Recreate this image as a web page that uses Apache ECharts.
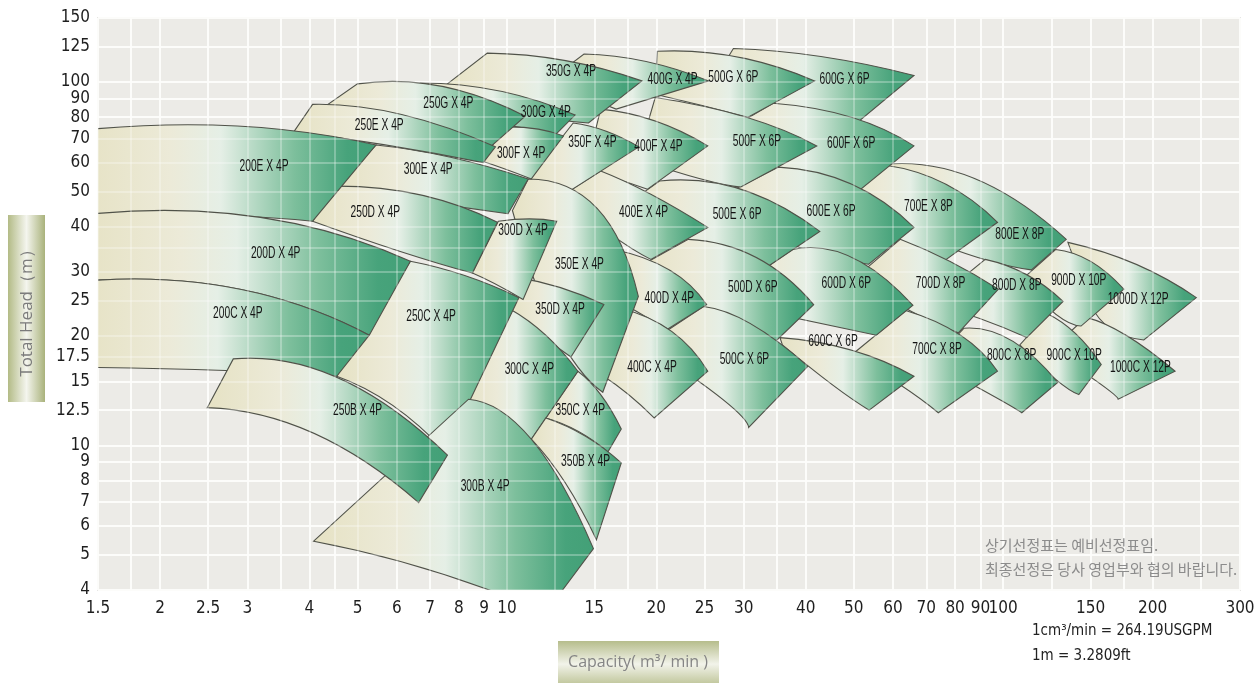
<!DOCTYPE html>
<html>
<head>
<meta charset="utf-8">
<title>Pump selection chart</title>
<script src="https://cdn.jsdelivr.net/npm/echarts@6.0.0/dist/echarts.min.js"></script>
<style>
  html, body { margin: 0; padding: 0; background: #fff; }
  #chart { width: 1260px; height: 686px; }
</style>
</head>
<body>
<div id="chart"></div>
<script>
'use strict';

// Capacity (m3/min) and total head (m) tick labels
var xTicks = [1.5, 2, 2.5, 3, 4, 5, 6, 7, 8, 9, 10, 15, 20, 25, 30, 40, 50, 60, 70, 80, 90, 100, 150, 200, 300];
var yTicks = [4, 5, 6, 7, 8, 9, 10, 12.5, 15, 17.5, 20, 25, 30, 40, 50, 60, 70, 80, 90, 100, 125, 150];
// grid lines (white)
var xGrid = [1.5, 1.75, 2, 2.5, 3, 3.5, 4, 4.5, 5, 6, 7, 8, 9, 10, 12.5, 15, 17.5, 20, 25, 30, 35, 40, 50, 60, 70, 80, 90, 100, 125, 150, 175, 200, 250, 300];
var yGrid = [4, 5, 6, 7, 8, 9, 10, 12.5, 15, 17.5, 20, 25, 30, 35, 40, 50, 60, 70, 80, 90, 100, 125, 150];

// pump zones in drawing order: big pumps first, so smaller ones lie over them
var pumpNames = [
  '1000D X 12P', '1000C X 12P', '900D X 10P', '900C X 10P',
  '800E X 8P', '800D X 8P', '800C X 8P', '700E X 8P', '700D X 8P', '700C X 8P',
  '600G X 6P', '600F X 6P', '600E X 6P', '600D X 6P', '600C X 6P',
  '500G X 6P', '500F X 6P', '500E X 6P', '500D X 6P', '500C X 6P',
  '400G X 4P', '400F X 4P', '400E X 4P', '400D X 4P', '400C X 4P',
  '350G X 4P', '350F X 4P', '350E X 4P', '350D X 4P', '350C X 4P',
  '300G X 4P', '300F X 4P', '300E X 4P', '300D X 4P', '300C X 4P',
  '250G X 4P', '250E X 4P', '250D X 4P', '250C X 4P',
  '200E X 4P', '200D X 4P', '200C X 4P',
  '350B X 4P', '300B X 4P', '250B X 4P'
];

// [Q, H] of each zone: top edge (left, middle, right), bottom edge (right, middle, left)
var topLeft = [
  [135, 36.2], [146.8, 22.5], [127.5, 34.6], [123, 23],
  [58, 59.4], [92, 32.5], [83.3, 21], [58, 59], [62, 36.9], [63.6, 23.5],
  [28.6, 123.6], [34.4, 87.4], [35.2, 58.3], [37.6, 34.6], [35.5, 19.8],
  [20.1, 121.5], [19.9, 90.6], [20.3, 53.4], [23.2, 36.9], [24.9, 24.1],
  [14.3, 119.4], [15.45, 84.2], [15.45, 56.9], [16.4, 34.6], [17, 23.8],
  [9.13, 120.1], [13.6, 77.1], [11.04, 54.1], [10.42, 29], [13.9, 16],
  [6.7, 99.4], [9.83, 75.2], [5.45, 67.1], [9.61, 41.4], [10.16, 23.7],
  [5, 98.8], [4.06, 86.8], [4.5, 51.7], [6.39, 32.1],
  [1.4, 73.8], [1.4, 43.1], [1.4, 28.3],
  [11.98, 11.9], [8.37, 13.4], [2.81, 17.3]
];
var topMid = [
  [185.3, 31.5], [176.7, 20.1], [150, 32.1], [140, 20.3],
  [88, 54.1], [111.5, 29.5], [103.5, 19.5], [76.5, 52.4], [78, 32.1], [82, 20.1],
  [43.1, 117.4], [49.4, 80], [49.4, 52.4], [49.4, 33], [49.4, 18.3],
  [29, 117.4], [30.3, 80], [29.6, 50.7], [31.8, 32.9], [31, 21.6],
  [19.05, 113.9], [19.9, 78.1], [19.5, 49.1], [21.25, 30.4], [21.46, 20.6],
  [13.1, 114.6], [15.8, 73.3], [15.2, 44.9], [12.8, 27.2], [15.45, 13.8],
  [9.7, 94.4], [11.46, 74.3], [7.69, 62.1], [11.1, 42], [11.98, 20.1],
  [7.34, 97.5], [6.09, 81.6], [6.7, 48.9], [8.24, 29.3],
  [2.85, 75.7], [3.12, 42.6], [2.82, 27.1],
  [14.4, 10.6], [11.2, 10.4], [4.59, 15.3]
];
var topRight = [
  [245, 25.5], [222, 16], [175, 26.9], [157.6, 16.7],
  [134, 36.9], [132, 24.9], [128.8, 14.9], [97.4, 41.1], [97.8, 26.9], [97.4, 16],
  [66.1, 104.2], [66.1, 66.7], [66.1, 39.8], [65.8, 24.3], [66.1, 15.5],
  [41.7, 100.7], [42.1, 66.7], [42.7, 38.8], [41.5, 24.4], [40.4, 16.5],
  [25.5, 100.7], [25.4, 66.7], [25.4, 39.8], [25.26, 24.4], [25.4, 16],
  [18.7, 100.7], [18.45, 66.3], [18.4, 25.7], [15.68, 24.4], [17, 11.1],
  [13.72, 81.1], [13, 71], [11.04, 54.1], [12.6, 41.4], [13.9, 16],
  [10.89, 80.5], [9.48, 66.3], [9.57, 41.1], [10.57, 25.5],
  [5.45, 67.1], [6.39, 32.1], [5.28, 20.1],
  [17, 8.95], [14.94, 5.2], [7.59, 9.4]
];
var bottomRight = [
  [192, 19.5], [170.5, 13.4], [143.5, 21.3], [142, 13.8],
  [114, 30.4], [111.5, 19.8], [109, 12.3], [75.8, 32.1], [81.2, 20.4], [74, 12.3],
  [51, 77.6], [51, 50], [53.5, 31.5], [55.5, 20.1], [53.7, 12.5],
  [30.6, 80], [29.6, 51.4], [33.5, 31], [35, 19.5], [30.7, 11.2],
  [16.6, 84.2], [19.2, 50.7], [19.5, 32.5], [21.1, 20.9], [19.8, 11.9],
  [14.6, 77.1], [13, 48.9], [15.6, 14], [13.46, 17.5], [15.98, 9.6],
  [12.56, 71.9], [11.2, 54.1], [10.05, 43.4], [10.78, 25.2], [11.2, 10.4],
  [9.26, 66.3], [8.96, 60], [8.52, 29.8], [7.52, 9.6],
  [4.06, 41.4], [5.28, 20.1], [4.54, 15.5],
  [15.15, 5.5], [11.98, 3.47], [6.64, 6.96]
];
var bottomMid = [
  [165, 20.9], [157.6, 14.7], [127.5, 23], [127.5, 15.2],
  [94.3, 32.1], [90, 22.3], [94.3, 13.8], [59.3, 36.9], [65.2, 23.4], [61.9, 14.7],
  [35.5, 85.3], [37.3, 56.9], [37.3, 35.7], [38.9, 22.3], [45.2, 14.7],
  [24.6, 86.3], [24.6, 54.1], [27, 32.9], [28.4, 21.2], [27.2, 13.4],
  [14.7, 92.5], [16.6, 54.1], [16.2, 38.1], [19.05, 22.6], [17.59, 13.8],
  [10.68, 83.2], [11.98, 51.4], [12.5, 20.9], [11.72, 20.1], [13.9, 10.95],
  [9.7, 76.7], [9.91, 57.6], [6.7, 47.1], [9.48, 27.8], [9.48, 11.9],
  [6.09, 76.7], [5.7, 67.1], [6.09, 34.2], [5.88, 12.9],
  [2.47, 43.1], [2.82, 27.1], [2.63, 16.1],
  [13.1, 7.9], [7, 4.54], [4.08, 10.8]
];
var bottomLeft = [
  [150, 24.4], [124.5, 18.3], [109, 28.6], [108, 18.9],
  [74.8, 35.7], [71.7, 24.6], [71.7, 16.9], [45.4, 44.9], [50.2, 28.8], [49.4, 17.7],
  [25.1, 92.5], [25.4, 68.7], [24.8, 45.7], [26.5, 24.9], [35.9, 18.9],
  [19.9, 92.5], [18.3, 61.3], [17, 44.9], [18.6, 31.2], [19, 18.9],
  [13.1, 109], [14.4, 56.9], [13, 48.9], [16.9, 24.9], [15.45, 15.7],
  [7.59, 98.8], [11.1, 54.1], [10.26, 44.3], [10.16, 23.4], [11.98, 11.9],
  [7.34, 81.6], [8.96, 60.4], [4.56, 51.7], [8.52, 29.8], [8.12, 13.2],
  [4.17, 83.2], [3.72, 72.9], [4.06, 41.4], [4.54, 15.5],
  [1.4, 42.9], [1.4, 28.3], [1.4, 16.4],
  [11.2, 10.4], [4.08, 5.45], [2.49, 12.7]
];
// where each zone's name is written
var labelAt = [
  [187, 25.2], [189, 16.4], [142, 28.4], [139, 17.7],
  [108, 38], [106.5, 27.6], [104, 17.7], [70.7, 45.4], [74.8, 27.8], [73.6, 18.3],
  [47.9, 101.4], [49.4, 67.5], [45, 44], [48.3, 27.8], [45.4, 19.3],
  [28.6, 102.8], [31.9, 68.6], [29.1, 43.1], [31.3, 27.1], [30.1, 17.2],
  [21.57, 101.4], [20.2, 66.3], [18.85, 43.8], [21.25, 25.3], [19.6, 16.4],
  [13.46, 107], [14.87, 67.9], [14, 31.5], [12.8, 23.7], [14.05, 12.5],
  [11.98, 82.6], [10.68, 63.6], [6.94, 57.3], [10.78, 39], [11.1, 16.2],
  [7.62, 87.4], [5.53, 75.7], [5.43, 43.8], [7.03, 22.6],
  [3.24, 58.6], [3.42, 33.8], [2.87, 23],
  [14.4, 9], [9.04, 7.7], [5, 12.5]
];

var NARROW = '"Liberation Sans Narrow", "Arial Narrow", "DejaVu Sans Condensed", "Liberation Sans", sans-serif';

function lg(v) { return Math.log10(v); }
function unlg(v) { return String(+Math.pow(10, v).toPrecision(4)); }

var zoneData = pumpNames.map(function (name, i) {
  var pts = [topLeft[i], topMid[i], topRight[i], bottomRight[i], bottomMid[i], bottomLeft[i]];
  var value = [];
  pts.forEach(function (p) { value.push(lg(p[0]), lg(p[1])); });
  return { name: name, value: value };
});

var labelData = pumpNames.map(function (name, i) {
  return { name: name, value: [lg(labelAt[i][0]), lg(labelAt[i][1])] };
});

function renderZone(params, api) {
  var p = [];
  for (var k = 0; k < 6; k++) {
    p.push(api.coord([api.value(2 * k), api.value(2 * k + 1)]));
  }
  var tl = p[0], tm = p[1], tr = p[2], br = p[3], bm = p[4], bl = p[5];
  // quadratic control points so that each curve passes through its middle point
  var c1 = [2 * tm[0] - (tl[0] + tr[0]) / 2, 2 * tm[1] - (tl[1] + tr[1]) / 2];
  var c2 = [2 * bm[0] - (br[0] + bl[0]) / 2, 2 * bm[1] - (br[1] + bl[1]) / 2];
  var d = 'M ' + tl[0] + ' ' + tl[1] +
    ' Q ' + c1[0] + ' ' + c1[1] + ' ' + tr[0] + ' ' + tr[1] +
    ' L ' + br[0] + ' ' + br[1] +
    ' Q ' + c2[0] + ' ' + c2[1] + ' ' + bl[0] + ' ' + bl[1] + ' Z';
  return {
    type: 'path',
    shape: { pathData: d },
    style: {
      fill: new echarts.graphic.LinearGradient(0, 0, 1, 0, [
        { offset: 0, color: '#e6e2c4' },
        { offset: 0.3, color: '#ecead8' },
        { offset: 0.47, color: '#e5efe6' },
        { offset: 0.72, color: '#7dbf9c' },
        { offset: 0.9, color: '#47a37b' },
        { offset: 1, color: '#43a077' }
      ]),
      stroke: '#505249',
      lineWidth: 1.1
    }
  };
}

// condensed lettering for the pump names
function renderName(params, api) {
  var c = api.coord([api.value(0), api.value(1)]);
  return {
    type: 'text',
    x: c[0],
    y: c[1],
    scaleX: 0.64,
    style: {
      text: pumpNames[params.dataIndex],
      font: '16px "Liberation Sans", Arial, sans-serif',
      fill: '#141414',
      align: 'center', verticalAlign: 'middle',
      textAlign: 'center', textVerticalAlign: 'middle'
    }
  };
}

function gridAxis(ticks, lo, hi, extra) {
  var axis = {
    type: 'value',
    min: lg(lo),
    max: lg(hi),
    axisLine: { show: false },
    axisTick: { show: false, customValues: ticks.map(lg) },
    splitLine: { show: true, lineStyle: { color: '#fbfbf9', width: 2 } },
    axisLabel: { show: false }
  };
  for (var k in extra) { axis[k] = extra[k]; }
  return axis;
}

var axisFont = { margin: 10, color: '#1e1e1e', fontSize: 17, fontFamily: NARROW, formatter: unlg };

function note(x, y, text, font, color) {
  return {
    type: 'text', x: x, y: y, z: 10,
    style: {
      text: text, fill: color, font: font,
      align: 'left', verticalAlign: 'middle', textAlign: 'left', textVerticalAlign: 'middle'
    }
  };
}

var chart = echarts.init(document.getElementById('chart'));

var option = {
  backgroundColor: '#ffffff',
  animation: false,
  grid: {
    left: 98, right: 20, top: 18, bottom: 96,
    show: true,
    backgroundColor: '#ecebe7',
    borderColor: '#d3d3cf',
    borderWidth: 1.5
  },
  xAxis: [
    gridAxis(xGrid, 1.5, 300, {
      axisLabel: Object.assign({ customValues: xTicks.map(lg) }, axisFont)
    }),
    // faint copy of the grid drawn over the zones
    gridAxis(xGrid, 1.5, 300, {
      position: 'bottom', z: 3,
      splitLine: { show: true, lineStyle: { color: 'rgba(255,255,255,0.28)', width: 2 } }
    })
  ],
  yAxis: [
    gridAxis(yGrid, 4, 150, {
      axisLabel: Object.assign({ customValues: yTicks.map(lg) }, axisFont, { margin: 8 })
    }),
    gridAxis(yGrid, 4, 150, {
      position: 'left', z: 3,
      splitLine: { show: true, lineStyle: { color: 'rgba(255,255,255,0.28)', width: 2 } }
    })
  ],
  series: [
    {
      type: 'custom',
      name: 'zones',
      clip: true,
      silent: true,
      renderItem: renderZone,
      encode: { x: [0, 2, 4, 6, 8, 10], y: [1, 3, 5, 7, 9, 11] },
      data: zoneData,
      z: 2
    },
    {
      type: 'custom',
      name: 'names',
      silent: true,
      renderItem: renderName,
      encode: { x: 0, y: 1 },
      data: labelData,
      z: 5
    }
  ],
  graphic: [
    {
      type: 'rect', x: 8, y: 215, z: 10, shape: { width: 37, height: 187 },
      style: {
        fill: new echarts.graphic.LinearGradient(0, 0, 1, 0, [
          { offset: 0, color: '#b3bb86' },
          { offset: 0.5, color: '#f4f5ee' },
          { offset: 1, color: '#a9b27b' }
        ])
      }
    },
    {
      type: 'text', x: 27, y: 309, z: 11, rotation: Math.PI / 2,
      style: {
        text: 'Total Head（m）', fill: '#7b7b7b', font: '17px "Open Sans", "Noto Sans", sans-serif',
        align: 'center', verticalAlign: 'middle', textAlign: 'center', textVerticalAlign: 'middle'
      }
    },
    {
      type: 'rect', x: 558, y: 641, z: 10, shape: { width: 161, height: 42 },
      style: {
        fill: new echarts.graphic.LinearGradient(0, 0, 0, 1, [
          { offset: 0, color: '#b6bd8c' },
          { offset: 0.55, color: '#f2f3ea' },
          { offset: 1, color: '#c3c9a0' }
        ])
      }
    },
    {
      type: 'text', x: 638, y: 662, z: 11,
      style: {
        text: 'Capacity( m³/ min )', fill: '#858585', font: '16px "Open Sans", "Noto Sans", sans-serif',
        align: 'center', verticalAlign: 'middle', textAlign: 'center', textVerticalAlign: 'middle'
      }
    },
    note(985, 545, '상기선정표는 예비선정표임.', '15px "Noto Sans CJK KR", sans-serif', '#8c8c8c'),
    note(985, 569, '최종선정은 당사 영업부와 협의 바랍니다.', '15px "Noto Sans CJK KR", sans-serif', '#8c8c8c'),
    note(1032, 631, '1cm³/min = 264.19USGPM', '15px ' + NARROW, '#222222'),
    note(1032, 656, '1m = 3.2809ft', '15px ' + NARROW, '#222222')
  ]
};

chart.setOption(option);
</script>
</body>
</html>
